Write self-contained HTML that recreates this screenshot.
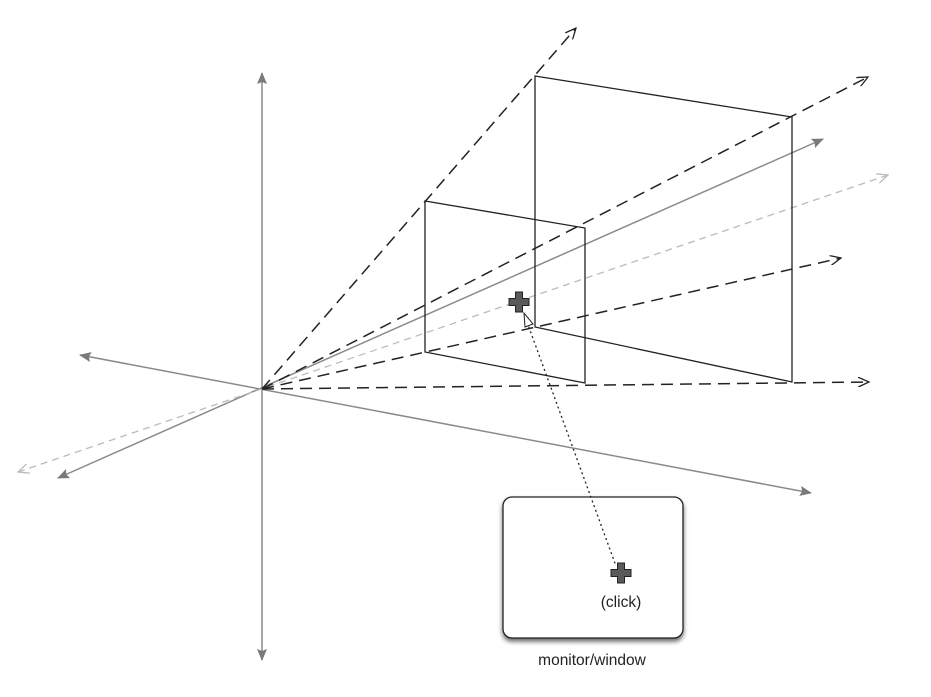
<!DOCTYPE html>
<html><head><meta charset="utf-8"><style>
html,body{margin:0;padding:0;background:#fff;width:931px;height:697px;overflow:hidden}
</style></head><body>
<svg width="931" height="697" viewBox="0 0 931 697" xmlns="http://www.w3.org/2000/svg" font-family="Liberation Sans, sans-serif">
<defs>
<marker id="fg" viewBox="0 0 12 10" refX="11" refY="5" markerWidth="12" markerHeight="10" markerUnits="userSpaceOnUse" orient="auto-start-reverse">
<path d="M0,0 L12,5 L0,10 L2,5 z" fill="#7a7a7a"/></marker>
<marker id="ob" viewBox="0 0 12 10" refX="11" refY="5" markerWidth="12" markerHeight="10" markerUnits="userSpaceOnUse" orient="auto-start-reverse">
<path d="M0,0 L11,5 L0,10" fill="none" stroke="#222" stroke-width="1.3"/></marker>
<marker id="ol" viewBox="0 0 12 10" refX="11" refY="5" markerWidth="12" markerHeight="10" markerUnits="userSpaceOnUse" orient="auto-start-reverse">
<path d="M0,0 L11,5 L0,10" fill="none" stroke="#bbb" stroke-width="1.3"/></marker>
<filter id="sh" x="-10%" y="-10%" width="120%" height="130%"><feDropShadow dx="0" dy="3" stdDeviation="2.5" flood-color="#000" flood-opacity="0.6"/></filter>
<g id="cross"><path d="M-3.5,-10 H3.5 V-3.5 H10 V3.5 H3.5 V10 H-3.5 V3.5 H-10 V-3.5 H-3.5 Z" fill="#5a5a5a" stroke="#222" stroke-width="1"/></g>
</defs>
<line x1="262" y1="73" x2="262" y2="660" stroke="#8a8a8a" stroke-width="1.5" marker-start="url(#fg)" marker-end="url(#fg)"/>
<line x1="80" y1="355" x2="811" y2="493" stroke="#8a8a8a" stroke-width="1.5" marker-start="url(#fg)" marker-end="url(#fg)"/>
<line x1="58" y1="478" x2="823" y2="139" stroke="#8a8a8a" stroke-width="1.5" marker-start="url(#fg)" marker-end="url(#fg)"/>
<line x1="18" y1="472" x2="888" y2="175" stroke="#bbb" stroke-width="1.3" stroke-dasharray="7,5" marker-start="url(#ol)" marker-end="url(#ol)"/>
<polygon points="425,201 585,228 585,383 425,352" fill="none" stroke="#222" stroke-width="1.3"/>
<polygon points="535,76 792,117 792,382 535,327" fill="none" stroke="#222" stroke-width="1.3"/>
<g stroke="#222" stroke-width="1.5" stroke-dasharray="12,7" fill="none">
<line x1="262" y1="389" x2="576" y2="28" marker-end="url(#ob)"/>
<line x1="262" y1="389" x2="868" y2="77" marker-end="url(#ob)"/>
<line x1="262" y1="389" x2="841" y2="258" marker-end="url(#ob)"/>
<line x1="262" y1="389" x2="869" y2="382" marker-end="url(#ob)"/>
</g>
<rect x="503" y="497" width="180" height="141" rx="9" ry="9" fill="#fff" stroke="#222" stroke-width="1.3" filter="url(#sh)"/>
<text x="592" y="665" font-size="15.5" text-anchor="middle" fill="#222">monitor/window</text>
<text x="621" y="607" font-size="15.5" text-anchor="middle" fill="#222">(click)</text>
<line x1="527" y1="322" x2="616" y2="566" stroke="#222" stroke-width="1.3" stroke-dasharray="2,3"/>
<use href="#cross" x="519" y="302"/>
<path d="M524,313 L525,327 L533,324 Z" fill="#fff" stroke="#222" stroke-width="1"/>
<use href="#cross" x="621" y="573"/>
</svg>
</body></html>
